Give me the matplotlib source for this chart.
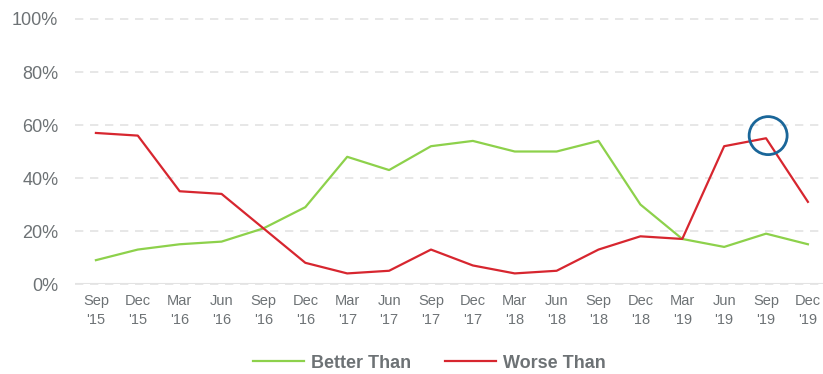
import matplotlib
matplotlib.use("Agg")
import matplotlib.pyplot as plt
from matplotlib.patches import Ellipse

# Quarterly survey results (percent)
quarters = ["Sep\n'15", "Dec\n'15", "Mar\n'16", "Jun\n'16", "Sep\n'16", "Dec\n'16",
            "Mar\n'17", "Jun\n'17", "Sep\n'17", "Dec\n'17", "Mar\n'18", "Jun\n'18",
            "Sep\n'18", "Dec\n'18", "Mar\n'19", "Jun\n'19", "Sep\n'19", "Dec\n'19"]
better_than = [9, 13, 15, 16, 21, 29, 48, 43, 52, 54, 50, 50, 54, 30, 17, 14, 19, 15]
worse_than = [57, 56, 35, 34, 21, 8, 4, 5, 13, 7, 4, 5, 13, 18, 17, 52, 55, 31]
highlight_idx = 16
highlight_val = 56

plt.rcParams['font.family'] = ['Liberation Sans', 'DejaVu Sans']
grey = "#6d7275"

fig = plt.figure(figsize=(8.23, 3.74), dpi=100)
ax = fig.add_axes([0.0911, 0.2406, 0.9089, 0.7086])

x = list(range(len(quarters)))
ax.plot(x, better_than, color="#8dd14b", lw=1.6, label="Better Than", zorder=3)
ax.plot(x, worse_than, color="#d7262f", lw=1.6, label="Worse Than", zorder=3)

# circle highlighting the latest peak
ax.add_patch(Ellipse((highlight_idx + 0.05, highlight_val), width=38 / 41.9, height=38 / 2.65,
                     fill=False, edgecolor="#1a6699", lw=2, zorder=4))

ax.set_xlim(-0.5, len(quarters) - 1 + 0.36)
ax.set_ylim(0, 100)
ax.set_yticks(range(0, 101, 20))
ax.set_yticklabels([f"{v}%" for v in range(0, 101, 20)])
ax.set_xticks(x)
ax.set_xticklabels(quarters, linespacing=1.45)

ax.grid(axis="y", color="#e3e3e3", lw=1.2, ls=(0, (5, 4)))
ax.axhline(0, color="#e3e3e3", lw=1.5, zorder=2)
for s in ax.spines.values():
    s.set_visible(False)
ax.tick_params(axis="both", length=0)
ax.tick_params(axis="y", labelsize=13, labelcolor=grey, pad=12)
ax.tick_params(axis="x", labelsize=10.5, labelcolor=grey, pad=7.5)
for gl in ax.get_ygridlines():
    gl.set_clip_on(False)

leg = fig.legend(loc="center", bbox_to_anchor=(0.522, 0.029), ncol=2, frameon=False,
                 prop={"weight": "bold", "size": 13}, handlelength=2.8, columnspacing=1.9,
                 handletextpad=0.4, borderpad=0.1)
for t in leg.get_texts():
    t.set_color(grey)

fig.savefig("out.png", dpi=100)
